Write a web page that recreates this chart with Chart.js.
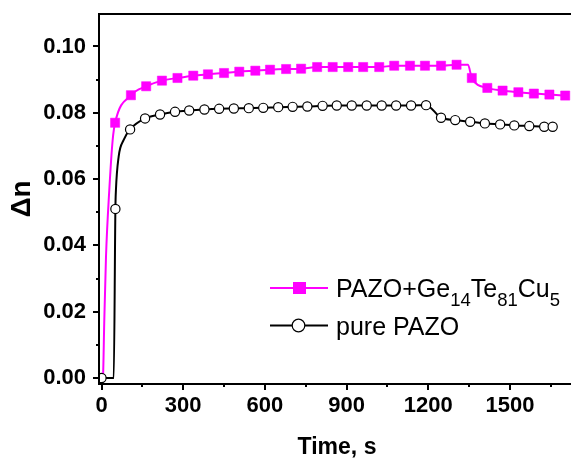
<!DOCTYPE html>
<html>
<head>
<meta charset="utf-8">
<script src="https://cdn.jsdelivr.net/npm/chart.js@4/dist/chart.umd.min.js"></script>
<style>
  html, body { margin: 0; padding: 0; overflow: hidden; background: #fff; }
</style>
</head>
<body>
<canvas id="chart" width="575" height="459"></canvas>
<script>
// PAZO + Ge14Te81Cu5 (magenta squares)
const pazoGeTime = [50, 108, 164, 222, 279, 337, 391, 450, 506, 565, 619, 678, 733, 792, 849,
    906, 961, 1020, 1075, 1133, 1188, 1247, 1304, 1360, 1417, 1473, 1531, 1588, 1645, 1703];
const pazoGeDn = [0.0770, 0.0853, 0.0880, 0.0897, 0.0905, 0.0912, 0.0916, 0.0920, 0.0924, 0.0927,
    0.0930, 0.0932, 0.0933, 0.0938, 0.0938, 0.0938, 0.0938, 0.0938, 0.0942, 0.0942,
    0.0942, 0.0942, 0.0945, 0.0905, 0.0875, 0.0867, 0.0862, 0.0858, 0.0855, 0.0852];
// extra points of the drawn curve (no symbol)
const pazoGeCurveTime = [0, 5.5, 10, 16.5, 28.6, 41, 1346];
const pazoGeCurveDn = [-0.0015, 0.0004, 0.0165, 0.0366, 0.0567, 0.0718, 0.0945];

// pure PAZO (open circles)
const pureTime = [0, 51, 105, 160, 215, 270, 322, 378, 432, 486, 541, 594, 649, 702, 756, 812,
    864, 919, 974, 1029, 1082, 1137, 1192, 1247, 1299, 1354, 1408, 1464, 1516, 1571, 1626, 1657];
const pureDn = [0, 0.0510, 0.0750, 0.0783, 0.0795, 0.0803, 0.0807, 0.0810, 0.0812, 0.0813, 0.0814,
    0.0815, 0.0817, 0.0818, 0.0819, 0.0821, 0.0822, 0.0822, 0.0822, 0.0822, 0.0822,
    0.0822, 0.0823, 0.0785, 0.0778, 0.0773, 0.0768, 0.0765, 0.0762, 0.0760, 0.0758, 0.0758];
const pureCurveTime = [45, 53, 63, 81.5];
const pureCurveDn = [0, 0.0567, 0.0668, 0.0718];

const xTicks = [0, 300, 600, 900, 1200, 1500];
const xMinor = [150, 450, 750, 1050, 1350, 1650];
const yTicks = [0, 0.02, 0.04, 0.06, 0.08, 0.10];
const yMinor = [0.01, 0.03, 0.05, 0.07, 0.09];

const MAGENTA = '#ff00ff';
const FONT = '"Liberation Sans", Arial, sans-serif';

const toXY = (xs, ys) => xs.map((x, i) => ({ x: x, y: ys[i] }));
const merged = (xs1, ys1, xs2, ys2) => toXY(xs1, ys1).concat(toXY(xs2, ys2)).sort((a, b) => a.x - b.x);

Chart.defaults.font.family = FONT;
Chart.defaults.color = '#000';

const noPad = s => { s.paddingTop = 0; s.paddingBottom = 0; s.paddingLeft = 0; s.paddingRight = 0; };

const framePlugin = {
    id: 'frame',
    afterDatasetsDraw(chart) {
        const { ctx, chartArea: a, scales } = chart;
        ctx.save();
        ctx.strokeStyle = '#000';
        ctx.lineWidth = 2;
        ctx.strokeRect(a.left, a.top, a.right - a.left, a.bottom - a.top);
        ctx.beginPath();
        xTicks.forEach(v => {
            const px = Math.round(scales.x.getPixelForValue(v));
            ctx.moveTo(px, a.bottom); ctx.lineTo(px, a.bottom + 6);
        });
        xMinor.forEach(v => {
            const px = Math.round(scales.x.getPixelForValue(v));
            if (px < a.right) { ctx.moveTo(px, a.bottom); ctx.lineTo(px, a.bottom + 3); }
        });
        yTicks.forEach(v => {
            const py = Math.round(scales.y.getPixelForValue(v));
            ctx.moveTo(a.left, py); ctx.lineTo(a.left - 6, py);
        });
        yMinor.forEach(v => {
            const py = Math.round(scales.y.getPixelForValue(v));
            ctx.moveTo(a.left, py); ctx.lineTo(a.left - 3, py);
        });
        ctx.stroke();
        ctx.restore();
    }
};

const legendPlugin = {
    id: 'customLegend',
    afterDraw(chart) {
        const ctx = chart.ctx;
        ctx.save();
        // row 1
        ctx.strokeStyle = MAGENTA;
        ctx.lineWidth = 2;
        ctx.beginPath(); ctx.moveTo(270, 288); ctx.lineTo(328, 288); ctx.stroke();
        ctx.fillStyle = MAGENTA;
        ctx.fillRect(293, 282, 13, 12);
        // row 2
        ctx.strokeStyle = '#000';
        ctx.beginPath(); ctx.moveTo(270, 325.5); ctx.lineTo(328, 325.5); ctx.stroke();
        ctx.fillStyle = '#fff';
        ctx.lineWidth = 1.2;
        ctx.beginPath(); ctx.arc(298.5, 325.5, 6.3, 0, Math.PI * 2); ctx.fill(); ctx.stroke();

        ctx.fillStyle = '#000';
        ctx.textBaseline = 'alphabetic';
        ctx.textAlign = 'left';
        const parts = [['PAZO+Ge', false], ['14', true], ['Te', false], ['81', true], ['Cu', false], ['5', true]];
        let x = 336;
        parts.forEach(([t, sub]) => {
            ctx.font = sub ? '18.5px ' + FONT : '25px ' + FONT;
            ctx.fillText(t, x, sub ? 305.5 : 297);
            x += ctx.measureText(t).width;
        });
        ctx.font = '25px ' + FONT;
        ctx.fillText('pure PAZO', 336, 334.5);
        ctx.restore();
    }
};

new Chart(document.getElementById('chart'), {
    type: 'line',
    data: {
        datasets: [
            {
                data: toXY(pazoGeTime, pazoGeDn),
                showLine: false,
                pointStyle: 'rect',
                pointRadius: 6.5,
                pointBackgroundColor: MAGENTA,
                pointBorderColor: MAGENTA,
                pointBorderWidth: 0.5,
                order: 0,
                clip: 0
            },
            {
                data: toXY(pureTime, pureDn),
                showLine: false,
                pointStyle: 'circle',
                pointRadius: 4.6,
                pointBackgroundColor: '#fff',
                pointBorderColor: '#000',
                pointBorderWidth: 1.2,
                order: 0,
                clip: 0
            },
            {
                data: merged(pazoGeTime, pazoGeDn, pazoGeCurveTime, pazoGeCurveDn),
                borderColor: MAGENTA,
                borderWidth: 2,
                pointRadius: 0,
                cubicInterpolationMode: 'monotone',
                order: 1,
                clip: 0
            },
            {
                data: merged(pureTime, pureDn, pureCurveTime, pureCurveDn),
                borderColor: '#000',
                borderWidth: 2,
                pointRadius: 0,
                cubicInterpolationMode: 'monotone',
                order: 1,
                clip: 0
            }
        ]
    },
    options: {
        responsive: false,
        animation: false,
        layout: { autoPadding: false, padding: { top: 14, right: 0, left: 0, bottom: 0 } },
        plugins: { legend: { display: false }, tooltip: { enabled: false } },
        scales: {
            x: {
                type: 'linear',
                min: -9.2,
                max: 1739,
                afterBuildTicks: s => { s.ticks = xTicks.map(v => ({ value: v })); },
                afterFit: s => { s.height = 75; noPad(s); },
                grid: { display: false, drawTicks: false },
                border: { display: false },
                ticks: {
                    padding: 9,
                    maxRotation: 0,
                    autoSkip: false,
                    font: { size: 22, weight: 'bold' },
                    callback: v => String(v)
                },
                title: {
                    display: true,
                    text: 'Time, s',
                    font: { size: 23, weight: 'bold', lineHeight: 1 },
                    padding: { top: 0, bottom: 0 }
                }
            },
            y: {
                min: -0.0018,
                max: 0.1098,
                afterBuildTicks: s => { s.ticks = yTicks.map(v => ({ value: v })); },
                afterFit: s => { s.width = 99; noPad(s); },
                grid: { display: false, drawTicks: false },
                border: { display: false },
                ticks: {
                    padding: 13,
                    autoSkip: false,
                    font: { size: 22, weight: 'bold' },
                    callback: v => v.toFixed(2)
                },
                title: {
                    display: true,
                    text: 'Δn',
                    font: { size: 28, weight: 'bold', lineHeight: 1 },
                    padding: { top: 8, bottom: 0 }
                }
            }
        }
    },
    plugins: [framePlugin, legendPlugin]
});
</script>
</body>
</html>
